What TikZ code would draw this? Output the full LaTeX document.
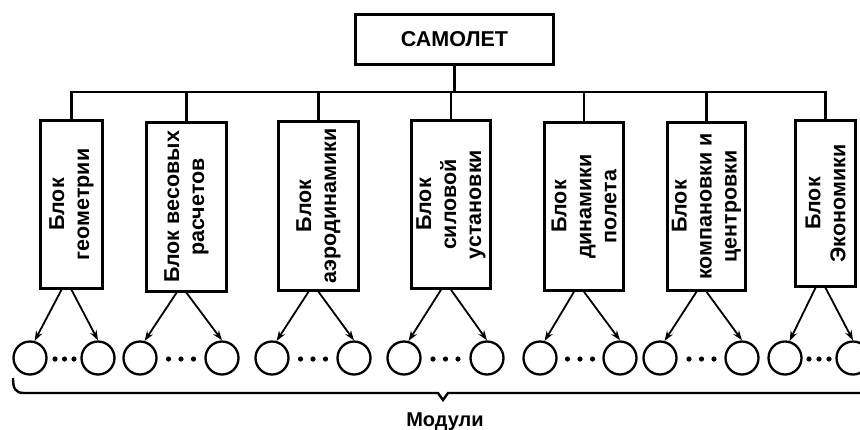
\documentclass[tikz,border=0pt]{standalone}
\usepackage{fontspec}
\setmainfont{Liberation Sans}
\usetikzlibrary{arrows.meta}
\begin{document}
\begin{tikzpicture}[x=1pt,y=-1pt,
  lw/.style={line width=2.6pt},
  topbox/.style={draw, line width=2.6pt, inner sep=0pt, minimum width=198pt, minimum height=50pt,
    font=\bfseries\fontsize{21.5}{25}\selectfont},
  blk/.style={draw, line width=2.6pt, rotate=90, align=center, inner sep=0pt,
    font=\bfseries\fontsize{21.5}{25}\selectfont},
  modc/.style={circle, draw, line width=2.3pt, minimum size=33pt, inner sep=0pt},
  arr/.style={line width=1.8pt, -{Stealth[length=10pt,width=7pt]}},
  brace/.style={line width=2.4pt},
  lbl/.style={font=\bfseries\fontsize{20}{24}\selectfont}]
\useasboundingbox (0,0) rectangle (860,429);
\clip (0,0) rectangle (860,429);
\fill[white] (0,0) rectangle (860,429);

% top
\node[topbox] (top) at (454.5,39.5) {САМОЛЕТ};
\coordinate (bus) at (0,92);

% blocks (rotated: local east = page top, local west = page bottom)
\node[blk, minimum width=168pt, minimum height=62pt] (b1) at (71.5,204.5) {Блок\\геометрии};
\node[blk, minimum width=169pt, minimum height=80pt] (b2) at (186.5,207) {Блок весовых\\расчетов};
\node[blk, minimum width=169pt, minimum height=80pt] (b3) at (318.5,206) {Блок\\аэродинамики};
\node[blk, minimum width=168pt, minimum height=79pt] (b4) at (451,204.5) {Блок\\силовой\\установки};
\node[blk, minimum width=168pt, minimum height=79pt] (b5) at (584,206.5) {Блок\\динамики\\полета};
\node[blk, minimum width=168pt, minimum height=78pt] (b6) at (706.5,206.5) {Блок\\компановки и\\центровки};
\node[blk, minimum width=166pt, minimum height=60pt] (b7) at (825.5,203.5) {Блок\\Экономики};

% tree lines
\draw[lw] (top.south) -- (top.south |- bus);
\draw[lw] (b1.east) -- (b1.east |- bus) -- (b7.east |- bus) -- (b7.east);
\foreach \b in {b2,b3,b4,b5,b6} \draw[lw] (\b.east) -- (\b.east |- bus);

% modules
\foreach \i/\x in {1/30,2/98,3/140,4/222,5/272,6/354,7/404,8/487,9/540,10/620,11/660,12/742,13/785,14/853}
  \node[modc] (c\i) at (\x,358) {};

% arrows
\foreach \b/\l/\r in {b1/c1/c2,b2/c3/c4,b3/c5/c6,b4/c7/c8,b5/c9/c10,b6/c11/c12,b7/c13/c14}{
  \draw[arr] ([xshift=-10pt]\b.west) -- (\l.75);
  \draw[arr] (\b.west) -- (\r.north);
}

% dots
\foreach \x/\s in {64.5/9.5,181/12.5,313/12.5,445.5/12.5,580/12.5,701.5/12.5,819/10}{
  \fill (\x-\s,359) circle (2.6pt);
  \fill (\x,359) circle (2.6pt);
  \fill (\x+\s,359) circle (2.6pt);
}

% brace
\draw[brace] (13,378) .. controls (13,388) and (15,393) .. (24,393) -- (438,393) -- (443,400) -- (448,393) -- (880,393);
\node[lbl] (mod) at (445,421.5) {Модули};
\end{tikzpicture}
\end{document}
